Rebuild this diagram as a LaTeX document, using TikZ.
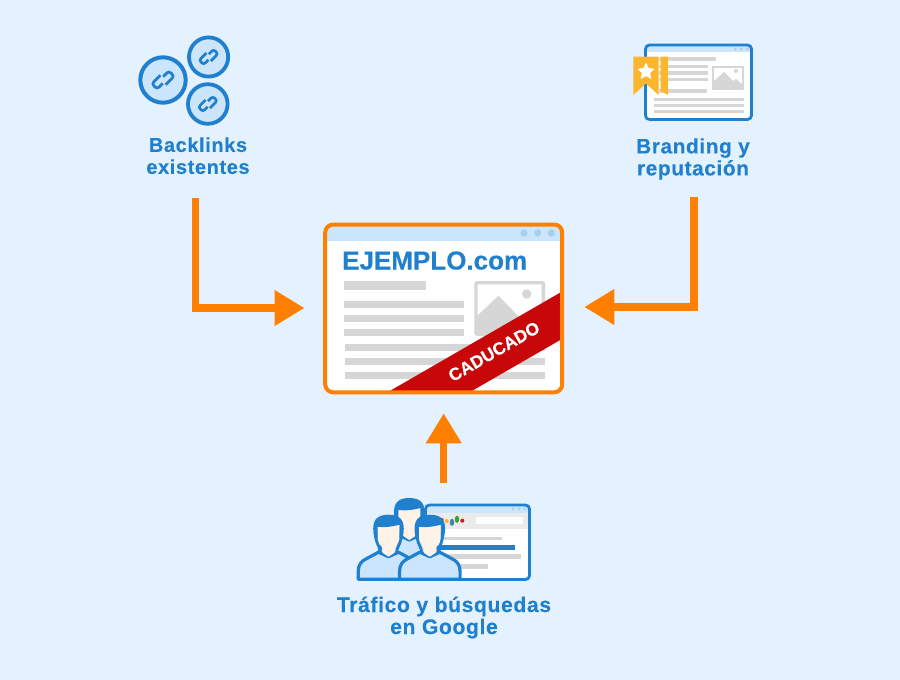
\documentclass[tikz,border=0pt]{standalone}
\usepackage{fontspec}
\setmainfont{Liberation Sans}
\usetikzlibrary{arrows.meta}
\definecolor{bgc}{HTML}{E3F2FE}
\definecolor{blu}{HTML}{2080CE}
\definecolor{lblu}{HTML}{CBE5FC}
\definecolor{dot}{HTML}{A9CFEE}
\definecolor{gry}{HTML}{D6D6D6}
\definecolor{org}{HTML}{FF7F00}
\definecolor{rd}{HTML}{C80808}
\definecolor{gold}{HTML}{FBB62E}
\definecolor{skin}{HTML}{FFF3E8}
\newfontfamily\lab[LetterSpace=3,FakeBold=0.25]{Liberation Sans Bold}
\newfontfamily\heavy[FakeBold=0.2]{Liberation Sans Bold}
\tikzset{
 x=1pt,y=-1pt,
 lbl/.style={text=blu,align=center,inner sep=0pt},
 flow/.style={draw=org,line width=7.2pt,-{Triangle[length=30pt,width=34pt]}},
 bar/.style={fill=gry,draw=none},
}
\newcommand{\linkicon}[3]{% x y scale
 \begin{scope}[shift={(#1,#2)},scale=#3,rotate=45]
  \draw[blu,line width=2.7pt,rounded corners=2.5pt] (1.5,-5.2) -- (-10.5,-5.2) -- (-10.5,2.2) -- (-2.5,2.2);
  \draw[blu,line width=2.7pt,rounded corners=2.5pt] (-1.5,5.2) -- (10.5,5.2) -- (10.5,-2.2) -- (2.5,-2.2);
 \end{scope}}
\newcommand{\person}[2]{%
 \begin{scope}[shift={(#1,#2)}]
  \fill[lblu,draw=blu,line width=3.2pt,line join=round] (-30.3,64.5) -- (-30.3,57) .. controls (-30.3,50) and (-27,46.5) .. (-23,44.5) -- (-10,37.5) -- (0,42) -- (10,37.5) -- (23,44.5) .. controls (27,46.5) and (30.3,50) .. (30.3,57) -- (30.3,64.5) -- cycle;
  \fill[skin] (-11,6) -- (-11,22) .. controls (-10,29) and (-7,31) .. (-6,34) -- (-6,38) -- (0,42) -- (6,38) -- (6,34) .. controls (7,31) and (10,29) .. (11,22) -- (11,6) -- cycle;
  \draw[blu,line width=2.8pt] (-12.5,18) -- (-12.5,24) .. controls (-11.5,30) and (-8.5,32) .. (-8,38);
  \draw[blu,line width=2.8pt] (12.5,18) -- (12.5,24) .. controls (11.5,30) and (8.5,32) .. (8,38);
  \fill[blu] (-11,24) -- (-14,24) -- (-15,18) .. controls (-16.5,6) and (-12,0) .. (0,0) .. controls (12,0) and (16.5,6) .. (15,18) -- (14,24) -- (11,24) -- (11,10) .. controls (4,12) and (-5,13) .. (-11,12) -- cycle;
 \end{scope}}
\begin{document}
\begin{tikzpicture}
\fill[bgc] (0,0) rectangle (900,680);
\useasboundingbox (0,0) rectangle (900,680);

% --- Backlinks icon
\draw[blu,line width=4pt,fill=lblu] (163,80) circle (22.7);
\draw[blu,line width=3.8pt,fill=lblu] (208.6,57) circle (19.6);
\draw[blu,line width=3.8pt,fill=lblu] (207.8,104) circle (19.8);
\linkicon{163}{80}{1.0}
\linkicon{208.6}{57}{0.85}
\linkicon{207.8}{104}{0.85}
\node[lbl,font=\lab\fontsize{20}{22}\selectfont] (back) at (198,155.7) {Backlinks\\existentes};

% --- Branding icon
\fill[white] (645.5,45) rectangle (751.5,119.5);
\fill[lblu] (645.5,45) rectangle (751.5,52);
\foreach \q in {735,741,747} \fill[dot] (\q,49) circle (1.5);
\fill[bar] (659,57) rectangle (716,61);
\fill[bar] (659,65) rectangle (707.7,68.3);
\fill[bar] (659,71.3) rectangle (707.7,74.7);
\fill[bar] (659,77.7) rectangle (707.7,81);
\fill[bar] (659,89.3) rectangle (707,92.7);
\fill[bar] (654,98) rectangle (744,101);
\fill[bar] (654,104) rectangle (744,107);
\fill[bar] (654,110.3) rectangle (744,113.3);
\draw[gry,line width=1.6pt,fill=white] (712.8,66.8) rectangle (743.2,89.2);
\fill[gry] (713,87) -- (713,82) -- (724,72) -- (733,81) -- (736,79) -- (743,85) -- (743,89) -- (713,89) -- cycle;
\fill[gry] (736,71) circle (2);
\draw[blu,line width=2.8pt,rounded corners=4pt] (645.5,45) rectangle (751.5,119.5);
\fill[gold] (660.7,56.7) -- (668,56.7) -- (668,95) -- (660.7,91) -- cycle;
\fill[gold] (633.3,56.7) -- (658.5,56.7) -- (658.5,95) -- (646,83.5) -- (633.3,95) -- cycle;
\fill[white] (646,62.7) -- (648.6,68) -- (654.5,68.9) -- (650.2,73) -- (651.3,78.9) -- (646,76.1) -- (640.7,78.9) -- (641.8,73) -- (637.5,68.9) -- (643.4,68) -- cycle;
\node[lbl,font=\lab\fontsize{20.8}{22}\selectfont] (brand) at (693,159) {Branding y\\reputación};

% --- Central page
\node[minimum width=236.6pt,minimum height=167.4pt,inner sep=0pt] (page) at (443.7,308.4) {};
\fill[white,rounded corners=8pt] (page.south west) rectangle (page.north east);
\begin{scope}
 \clip[rounded corners=8pt] (page.south west) rectangle (page.north east);
 \fill[lblu] (324,223) rectangle (563,241);
\end{scope}
\foreach \q in {524,537.7,551.3} \fill[dot] (\q,233) circle (3.6);
\node[anchor=base west,inner sep=0pt,text=blu,font=\heavy\fontsize{26}{28}\selectfont] (site) at (342,269.5) {EJEMPLO.com};
\fill[bar] (344,281) rectangle (426,290);
\foreach \q in {301,315,329} \fill[bar] (344,\q) rectangle (463.5,\q+7);
\foreach \q in {344,358,372} \fill[bar] (345,\q) rectangle (545,\q+7);
\draw[gry,line width=3.4pt,fill=white,rounded corners=1pt] (476,282.7) rectangle (543.3,334.3);
\fill[gry] (477,316) -- (498.5,295.7) -- (522,320) -- (530,312) -- (543,324) -- (543,334) -- (477,334) -- cycle;
\fill[gry] (526.7,294) circle (4.7);
\begin{scope}
 \clip[rounded corners=8pt] (page.south west) rectangle (page.north east);
 \fill[rd] (388,392) -- (563,291) -- (563,338.4) -- (470,392) -- cycle;
\end{scope}
\node[text=white,font=\heavy\fontsize{17.5}{20}\selectfont,rotate=30,inner sep=0pt] (cad) at (494,351.5) {CADUCADO};
\draw[org,line width=4pt,rounded corners=8pt] (page.south west) rectangle (page.north east);

% --- Google results icon
\fill[white] (425.5,505) rectangle (529.5,579.5);
\fill[lblu] (425.5,505) rectangle (529.5,512.7);
\foreach \q in {513,519,525} \fill[dot] (\q,508.7) circle (1.5);
\fill[gry!50] (425.5,512.7) rectangle (529.5,529);
\fill[white] (476,517.3) rectangle (523,524.3);
\fill[red!75!black!90] (441.7,520) circle (2);
\fill[gold] (446.7,521) circle (2);
\fill[blu!60!gray] (452,522.3) ellipse (2.2 and 3.6);
\fill[green!55!black!80] (457,519.3) ellipse (2.2 and 3.6);
\fill[red!80!black!90] (462.3,520.7) circle (2);
\fill[bar] (440,536.7) rectangle (501.7,539.7);
\fill[blu] (440,544.7) rectangle (515,550.3);
\fill[bar] (440,554) rectangle (520.7,559.3);
\fill[bar] (440,564) rectangle (488.3,569.3);
\draw[blu,line width=2.8pt,rounded corners=4pt] (425.5,505) rectangle (529.5,579.5);
\person{409.3}{498}
\person{388.5}{514.7}
\person{429.8}{514.7}
\node[lbl,font=\lab\fontsize{21.1}{22}\selectfont] (traf) at (444,617.5) {Tráfico y búsquedas\\en Google};

% --- Connectors
\coordinate (a1) at (195.3,198);
\coordinate (a2) at (195.3,308);
\coordinate (b1) at (694,197);
\coordinate (b2) at (694,307);
\coordinate (c1) at (443.7,482.7);
\coordinate (hA) at (304.5,308);
\coordinate (hB) at (584.3,307);
\coordinate (hC) at (443.7,413.3);
\draw[flow] (a1) -- (a2) -- (hA);
\draw[flow] (b1) -- (b2) -- (hB);
\draw[flow] (c1) -- (hC);
\end{tikzpicture}
\end{document}
